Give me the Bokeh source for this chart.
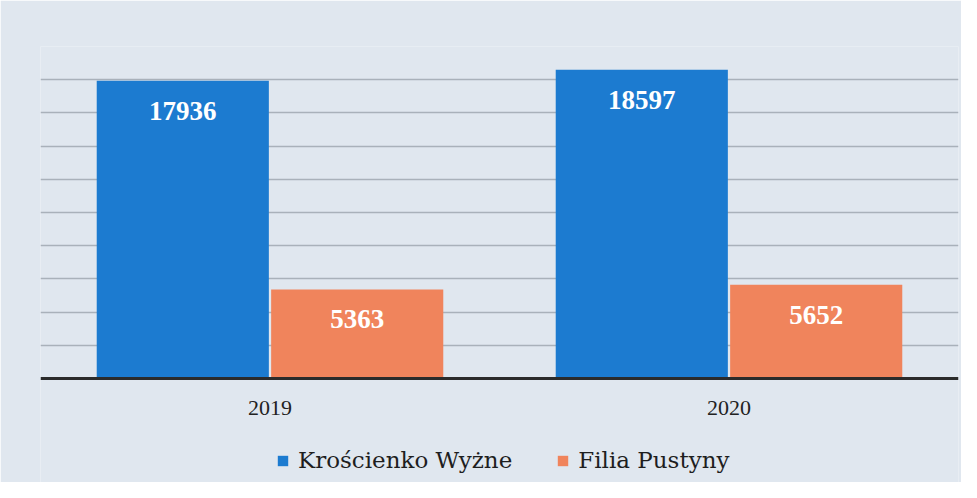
from bokeh.plotting import figure
from bokeh.models import ColumnDataSource, FactorRange, LabelSet, Legend, LegendItem, FixedTicker, Span
from bokeh.core.properties import value
from bokeh.transform import dodge
from bokeh.embed import file_html
from bokeh.resources import INLINE

years = ["2019", "2020"]
series_names = ["Krościenko Wyżne", "Filia Pustyny"]
kroscienko = [17936, 18597]
filia = [5363, 5652]
grid_ticks = [2000, 4000, 6000, 8000, 10000, 12000, 14000, 16000, 18000, 20000]
colors = ["#1c7bd0", "#f0845c"]

src = ColumnDataSource(dict(
    year=years,
    zero=[0, 0],
    k=kroscienko,
    f=filia,
    kl=[str(v) for v in kroscienko],
    fl=[str(v) for v in filia],
))

BG = "#e0e7ef"
p = figure(frame_width=918, frame_height=436, x_range=FactorRange(*years), y_range=(-6265, 20000),
           output_backend="svg", toolbar_location=None,
           min_border_left=40, min_border_right=3, min_border_top=46, min_border_bottom=0)

p.background_fill_color = BG
p.border_fill_color = BG
p.outline_line_color = None
p.xaxis.visible = False
p.yaxis.visible = False
p.xgrid.grid_line_color = None
p.ygrid.ticker = FixedTicker(ticks=grid_ticks)
p.ygrid.grid_line_color = "#a9b1ba"
p.ygrid.grid_line_width = 1.5

r1 = p.vbar(x=dodge("year", -0.19, range=p.x_range), top="k", width=0.375, source=src,
            fill_color=colors[0], line_color=None)
r2 = p.vbar(x=dodge("year", 0.19, range=p.x_range), top="f", width=0.375, source=src,
            fill_color=colors[1], line_color=None)

p.add_layout(Span(location=0, dimension="width", line_color="#2b2b2b", line_width=3))

# category labels under the baseline
p.text(x="year", y="zero", text="year", source=src, y_offset=29,
       text_align="center", text_baseline="middle", text_color="#222222",
       text_font=value("Liberation Serif"), text_font_size="22px")

for col, lab, off in [("k", "kl", -0.19), ("f", "fl", 0.19)]:
    p.add_layout(LabelSet(x=dodge("year", off, range=p.x_range), y=col, text=lab, source=src,
                          y_offset=-30, text_align="center", text_baseline="middle",
                          text_color="white", text_font="Liberation Serif",
                          text_font_size="27px", text_font_style="bold"))

legend = Legend(items=[LegendItem(label=series_names[0], renderers=[r1]),
                       LegendItem(label=series_names[1], renderers=[r2])],
                orientation="horizontal", location=(236, 9),
                background_fill_alpha=0, border_line_color=None,
                label_text_font="DejaVu Serif", label_text_font_size="23px",
                label_text_color="#1e1e1e", glyph_width=13, glyph_height=13,
                spacing=44, label_standoff=9, margin=0, padding=4)
p.add_layout(legend, "center")

open("out.html", "w").write(file_html(p, INLINE))
